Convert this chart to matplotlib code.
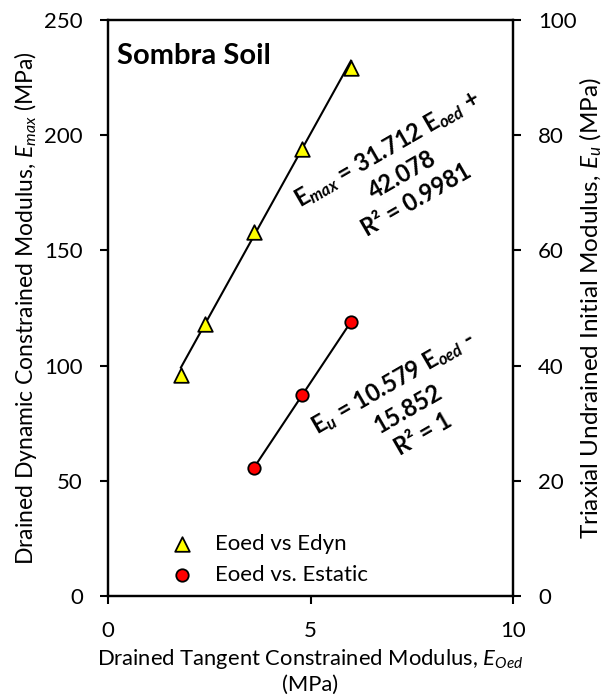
import numpy as np
import matplotlib.pyplot as plt

plt.rcParams['font.family'] = ['Lato', 'DejaVu Sans']
plt.rcParams['mathtext.fontset'] = 'custom'
plt.rcParams['mathtext.rm'] = 'Lato'
plt.rcParams['mathtext.it'] = 'Lato:italic'
plt.rcParams['mathtext.bf'] = 'Lato:bold'
plt.rcParams['mathtext.bfit'] = 'Lato:italic:bold'

# oedometer tangent modulus vs dynamic (left axis) and static (right axis) moduli
E_OED_DYN = [1.8, 2.4, 3.6, 4.8, 6.0]
E_DYN = [96, 118, 158, 194, 229]

E_OED_STAT = [3.6, 4.8, 6.0]
E_STAT = [22.2, 34.9, 47.6]

# linear fits reported on the chart
DYN_SLOPE, DYN_INT, DYN_R2 = 31.712, 42.078, 0.9981
STAT_SLOPE, STAT_INT, STAT_R2 = 10.579, -15.852, 1

FS = 16

fig = plt.figure(figsize=(6.04, 7), dpi=100)
ax = fig.add_axes([108/604, 104/700, 405/604, 576/700])
ax2 = ax.twinx()

x_dyn = np.array([min(E_OED_DYN), max(E_OED_DYN)])
ax.plot(x_dyn, DYN_SLOPE*x_dyn + DYN_INT, color='black', lw=1.5, zorder=2)
h1 = ax.scatter(E_OED_DYN, E_DYN, marker='^', s=110, facecolor='#FFFF00',
                edgecolor='black', linewidth=1.3, zorder=3, label='Eoed vs Edyn')

x_st = np.array([min(E_OED_STAT), max(E_OED_STAT)])
ax2.plot(x_st, STAT_SLOPE*x_st + STAT_INT, color='black', lw=1.5, zorder=2)
h2 = ax2.scatter(E_OED_STAT, E_STAT, marker='o', s=80, facecolor='#FF0000',
                 edgecolor='black', linewidth=1.3, zorder=3, label='Eoed vs. Estatic')

ax.set_xlim(0, 10)
ax.set_ylim(0, 250)
ax2.set_ylim(0, 100)
ax.set_xticks([0, 5, 10])
ax.set_yticks(np.arange(0, 251, 50))
ax2.set_yticks(np.arange(0, 101, 20))

for a in (ax, ax2):
    for s in a.spines.values():
        s.set_linewidth(1.6)
ax.tick_params(axis='both', direction='out', length=6, width=1.5, labelsize=FS, pad=12)
ax2.tick_params(axis='y', direction='out', length=6, width=1.5, labelsize=FS, pad=12)

ax.set_xlabel('Drained Tangent Constrained Modulus, $E_{Oed}$\n(MPa)', fontsize=15.8,
              labelpad=4, linespacing=1.25)
ax.set_ylabel('Drained Dynamic Constrained Modulus, $E_{max}$ (MPa)', fontsize=16.5, labelpad=4)
ax2.set_ylabel('Triaxial Undrained Initial Modulus, $E_u$ (MPa)', fontsize=17.5, labelpad=1)

ax.text(0.022, 0.96, 'Sombra Soil', transform=ax.transAxes, fontsize=21,
        fontweight='bold', ha='left', va='top')

# fit equations, rotated along the trend
ax.text(7.25, 183,
        f'E$_{{\\mathbfit{{max}}}}$ = {DYN_SLOPE:.3f} E$_{{\\mathbfit{{oed}}}}$ +\n{DYN_INT:.3f}\nR\u00b2 = {DYN_R2}',
        fontsize=17, fontweight='bold', rotation=30, rotation_mode='anchor',
        ha='center', va='center', multialignment='center', linespacing=1.3, zorder=4)
ax.text(7.4, 81.5,
        f'E$_{{\\mathbfit{{u}}}}$ = {STAT_SLOPE:.3f} E$_{{\\mathbfit{{oed}}}}$ -\n{-STAT_INT:.3f}\nR\u00b2 = {STAT_R2}',
        fontsize=17, fontweight='bold', rotation=30, rotation_mode='anchor',
        ha='center', va='center', multialignment='center', linespacing=1.3, zorder=4)

ax2.legend(handles=[h1, h2], loc='lower left', bbox_to_anchor=(0.122, 0.0),
           frameon=False, fontsize=FS, handlelength=1.2, handletextpad=0.9,
           labelspacing=0.5, borderaxespad=0.1)

fig.savefig('out.png', dpi=100)
